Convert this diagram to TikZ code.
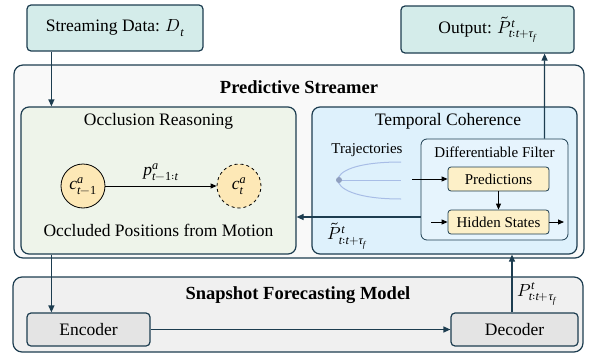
\documentclass[tikz,border=0pt]{standalone}
\usepackage{fontspec}
\usepackage{unicode-math}
\setmainfont{Liberation Serif}
\setmathfont{Latin Modern Math}
\setmathfont[range={it/{latin,greek}->up}]{Liberation Serif Italic}
\setmathfont[range={up/{num}}]{Liberation Serif}
\usetikzlibrary{arrows.meta}

\definecolor{navy}{HTML}{1D3D50}
\definecolor{tealfill}{HTML}{D4ECEA}
\definecolor{outerfill}{HTML}{F9F9F9}
\definecolor{greenfill}{HTML}{EEF4EA}
\definecolor{bluefill}{HTML}{DEF1FC}
\definecolor{filterfill}{HTML}{E6F4FD}
\definecolor{yellowfill}{HTML}{FDF0C8}
\definecolor{circfill}{HTML}{FDE8B6}
\definecolor{grayfill}{HTML}{F0F0F0}
\definecolor{grayfill2}{HTML}{E4E4E4}
\definecolor{trajblue}{HTML}{A8BDE6}
\definecolor{trajdot}{HTML}{8F9FBF}

\tikzset{
  big/.style={font=\fontsize{17.5}{20}\selectfont},
  heading/.style={font=\fontsize{18.5}{21}\selectfont\bfseries},
  small/.style={font=\fontsize{15}{17}\selectfont},
  box/.style={draw=navy, line width=1.2pt, rounded corners=4pt, inner sep=0pt, big},
  panel/.style={draw=navy, line width=1.2pt, rounded corners=9pt, inner sep=0pt},
  innerbox/.style={draw=navy, line width=0.8pt, rounded corners=3pt, inner sep=0pt, small},
  link/.style={draw=navy, line width=1.2pt, -{Triangle[length=7pt,width=6pt]}},
  blk/.style={draw=black, line width=0.9pt, -{Triangle[length=6pt,width=5pt]}},
  state/.style={circle, draw=black, line width=0.8pt, fill=circfill, minimum size=44pt, inner sep=0pt, big},
}

\begin{document}
\begin{tikzpicture}[x=1pt,y=-1pt]
\useasboundingbox (0,0) rectangle (592,356);

% input and output
\node[box, fill=tealfill, minimum width=176pt, minimum height=46pt] (stream) at (115,28) {Streaming Data: $D_t$};
\node[box, fill=tealfill, minimum width=173pt, minimum height=47pt] (out) at (487.5,29.5) {Output: $\tilde{P}^t_{t:t+\tau_f}$};

% predictive streamer
\node[panel, fill=outerfill, minimum width=570pt, minimum height=193pt] (streamer) at (299,161.5) {};
\node[heading] (streamertitle) at (299,87) {Predictive Streamer};

% occlusion reasoning
\node[panel, rounded corners=8pt, fill=greenfill, minimum width=275pt, minimum height=147pt] (occ) at (158.5,180.5) {};
\node[big] (occtitle) at (158.5,121) {Occlusion Reasoning};
\node[state] (c1) at (83,186) {$c^a_{t-1}$};
\node[state, dashed] (c2) at (239,186) {$c^a_t$};
\draw[blk] (c1) -- (c2) node[midway, above=2pt, big] (plabel) {$p^a_{t-1:t}$};
\node[big] (occnote) at (158.5,230) {Occluded Positions from Motion};

% temporal coherence
\node[panel, rounded corners=8pt, fill=bluefill, minimum width=265pt, minimum height=147pt] (temp) at (444.5,180.5) {};
\node[big] (temptitle) at (448,121) {Temporal Coherence};
\node[small] (trajtitle) at (367,150) {Trajectories};
\draw[trajblue, line width=1pt] (401,162) .. controls (354,162) and (338,172) .. (338,180)
  .. controls (338,188) and (354,199) .. (401,199);
\draw[trajblue, line width=1pt] (338,180) -- (401,180);
\fill[trajdot] (339,180) circle (3pt);

\node[innerbox, rounded corners=6pt, fill=filterfill, minimum width=147pt, minimum height=101pt] (filter) at (494.5,189.5) {};
\node[small] (filtertitle) at (494.5,152) {Differentiable Filter};
\node[innerbox, fill=yellowfill, minimum width=101pt, minimum height=24pt] (pred) at (498.5,179) {Predictions};
\node[innerbox, fill=yellowfill, minimum width=101pt, minimum height=24pt] (hid) at (498.5,222) {Hidden States};

\coordinate (trajout) at (412,179);
\coordinate (hidin) at (431,222);
\coordinate (hidout) at (564,222);
\draw[blk] (trajout) -- (pred.west);
\draw[blk] (pred.south) -- (hid.north);
\draw[blk] (hidin) -- (hid.west);
\draw[blk] (hid.east) -- (hidout);

% snapshot forecasting model
\node[panel, fill=grayfill, minimum width=570pt, minimum height=75pt] (snap) at (298,314.5) {};
\node[heading] (snaptitle) at (298,295) {Snapshot Forecasting Model};
\node[box, fill=grayfill2, minimum width=123pt, minimum height=33pt] (enc) at (88.5,329.5) {Encoder};
\node[box, fill=grayfill2, minimum width=127pt, minimum height=33pt] (dec) at (514.5,329.5) {Decoder};

% connectors
\draw[link] ([xshift=25pt]stream.south west) -- ([xshift=31pt]occ.north west);
\draw[link] ([xshift=31pt]occ.south west) -- ([xshift=25pt]enc.north west);
\draw[link] (enc.east) -- (dec.west);
\draw[link] ([xshift=-2.5pt]dec.north) -- ([xshift=-2.5pt]dec.north |- temp.south);
\node[big, anchor=west] (plab) at (514,294) {$P^t_{t:t+\tau_f}$};
\draw[link] ([xshift=-24pt]filter.north east) -- ([xshift=-30pt]out.south east);
\draw[link] ([yshift=-27.5pt]filter.west) -- ([yshift=-27.5pt]filter.west -| occ.east);
\node[big] (ptlab) at (347,236) {$\tilde{P}^t_{t:t+\tau_f}$};
\end{tikzpicture}
\end{document}
